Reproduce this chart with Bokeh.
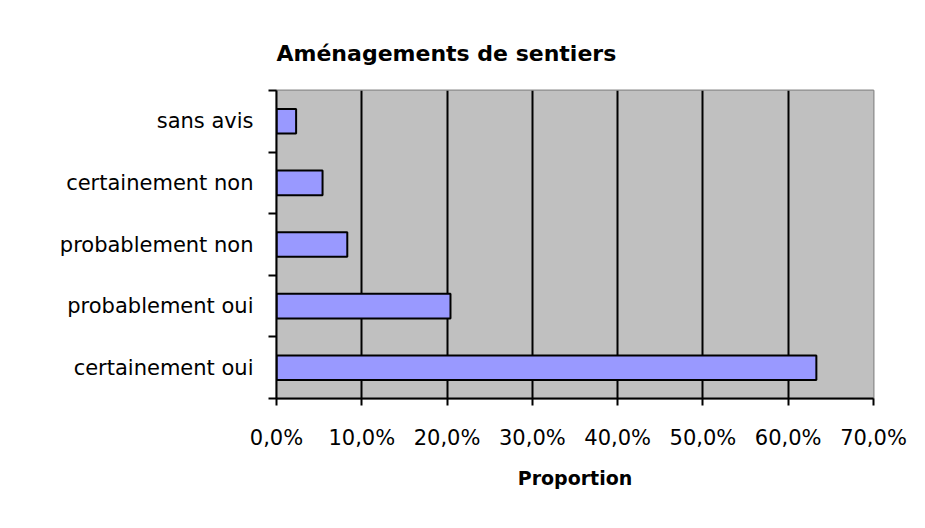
from bokeh.plotting import figure
from bokeh.models import Range1d, FixedTicker, ColumnDataSource
from bokeh.embed import file_html
from bokeh.resources import INLINE

# ---- data ----
categories = ["certainement oui", "probablement oui", "probablement non",
              "certainement non", "sans avis"]
values = [63.3, 20.4, 8.3, 5.4, 2.3]          # percent
x_ticks = [0, 10, 20, 30, 40, 50, 60, 70]
x_tick_labels = ["0,0%", "10,0%", "20,0%", "30,0%", "40,0%", "50,0%", "60,0%", "70,0%"]
title_text = "Aménagements de sentiers"
x_title = "Proportion"

positions = [i + 0.5 for i in range(len(categories))]
source = ColumnDataSource(dict(y=positions, right=values, cat=categories))

p = figure(width=909, height=512, output_backend="svg", toolbar_location=None,
           x_range=Range1d(0, 70), y_range=Range1d(0, len(categories)),
           min_border_left=276, min_border_right=36, min_border_top=90,
           min_border_bottom=114)

p.background_fill_color = "white"
p.border_fill_color = "white"
p.outline_line_color = "#8c8c8c"
p.outline_line_width = 2

# plot area fill
p.quad(left=0, right=70, bottom=0, top=len(categories),
       fill_color="#C0C0C0", line_color=None, level="underlay")

p.hbar(y="y", right="right", left=0, height=0.4, source=source,
       fill_color="#9999FF", line_color="#000000", line_width=2)

# title
p.title.text = title_text
p.title.align = "left"
p.title.text_font = "DejaVu Sans"
p.title.text_font_size = "22px"
p.title.text_font_style = "bold"
p.title.text_color = "#000000"
p.title.standoff = 49
p.title.offset = 0

# x axis
xa = p.xaxis[0]
xa.ticker = FixedTicker(ticks=x_ticks)
xa.major_label_overrides = {t: l for t, l in zip(x_ticks, x_tick_labels)}
xa.major_label_text_font = "DejaVu Sans"
xa.major_label_text_font_size = "21px"
xa.major_label_text_color = "#000000"
xa.major_label_standoff = 20
xa.major_tick_out = 7
xa.major_tick_in = 0
xa.major_tick_line_color = "#000000"
xa.major_tick_line_width = 2
xa.minor_tick_line_color = None
xa.axis_line_color = "#000000"
xa.axis_line_width = 2
xa.axis_label = x_title
xa.axis_label_text_font = "DejaVu Sans"
xa.axis_label_text_font_size = "19px"
xa.axis_label_text_font_style = "bold"
xa.axis_label_text_color = "#000000"
xa.axis_label_standoff = 14

# y axis: labels at category centres, ticks at category boundaries
ya = p.yaxis[0]
ya.ticker = FixedTicker(ticks=positions, minor_ticks=list(range(len(categories) + 1)))
ya.major_label_overrides = {pos: c for pos, c in zip(positions, categories)}
ya.major_label_text_font = "DejaVu Sans"
ya.major_label_text_font_size = "21px"
ya.major_label_text_color = "#000000"
ya.major_label_standoff = 15
ya.major_tick_out = 0
ya.major_tick_in = 0
ya.major_tick_line_color = None
ya.minor_tick_out = 8
ya.minor_tick_in = 0
ya.minor_tick_line_color = "#000000"
ya.minor_tick_line_width = 2
ya.axis_line_color = "#000000"
ya.axis_line_width = 2

# grid
p.xgrid.ticker = FixedTicker(ticks=x_ticks)
p.xgrid.grid_line_color = "#000000"
p.xgrid.grid_line_width = 2
p.ygrid.grid_line_color = None

open("out.html", "w").write(file_html(p, INLINE))
